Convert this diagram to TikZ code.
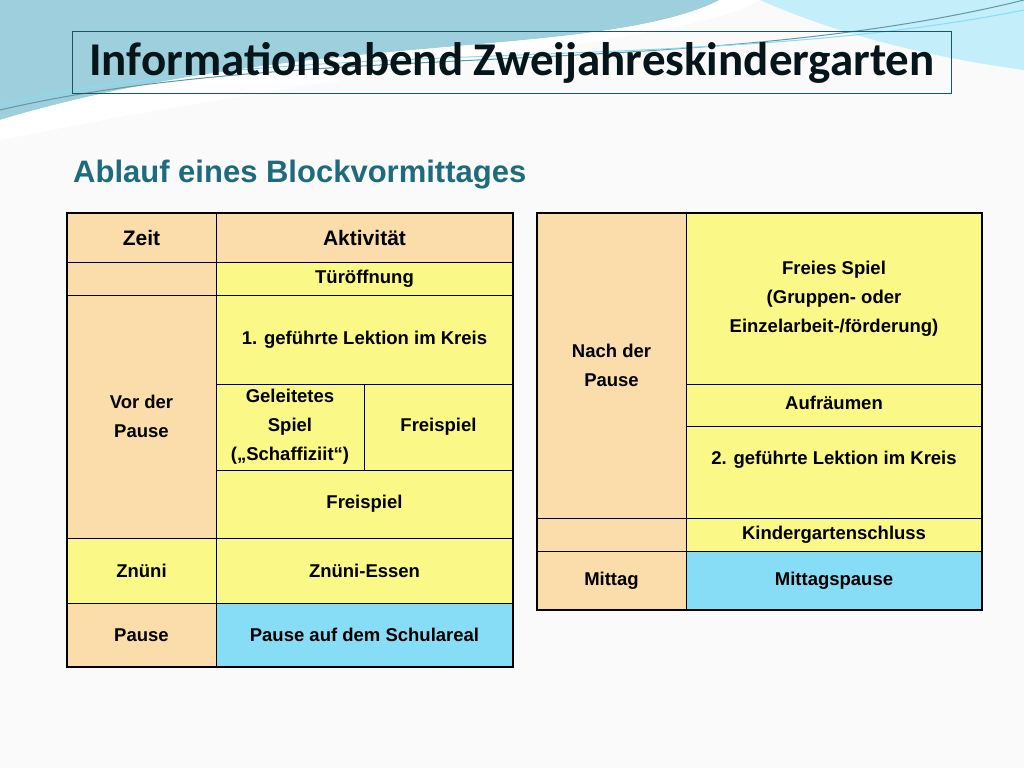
\documentclass[tikz,border=0pt]{standalone}
\usepackage{fontspec}
\setmainfont{Liberation Sans}
\newfontfamily\titlefont{Carlito}
\definecolor{tan}{HTML}{FADDAA}
\definecolor{lemon}{HTML}{FAF887}
\definecolor{sky}{HTML}{86DDF5}
\definecolor{teal}{HTML}{1F6B7E}
\tikzset{cell/.style={draw=black, line width=1pt, font=\bfseries\fontsize{18.5}{29}\selectfont, align=center}}
\newcommand\cell[7]{\draw[cell, fill=#6] (#2,#3) rectangle (#4,#5) node[pos=.5, align=center] (#1) {#7};}
\begin{document}
\begin{tikzpicture}[x=1pt, y=-1pt]
    \useasboundingbox (0,0) rectangle (1024,768);
    \fill[white!96!gray] (0,0) rectangle (1024,768);
    % background swooshes
    \fill[sky!60!teal!60] (0,0) -- (720,0) .. controls (600,60) and (300,30) .. (0,120) -- cycle;
    \fill[sky!50] (760,0) -- (1024,0) -- (1024,70) .. controls (950,60) and (850,40) .. (760,0) -- cycle;
    \fill[white] (0,120) .. controls (300,30) and (600,60) .. (720,0) -- (760,0) .. controls (700,40) and (400,60) .. (0,140) -- cycle;
    \draw[teal!70, line width=1pt] (0,110) .. controls (300,40) and (700,80) .. (1024,0);
    \draw[sky, line width=1pt] (0,105) .. controls (300,35) and (700,75) .. (1024,10);
    % title
    \node[draw=teal!80!black, line width=1pt, minimum width=879pt, minimum height=62pt, anchor=north west,
          font=\titlefont\bfseries\fontsize{47}{50}\selectfont, text=black!80!teal]
        (title) at (72,31) {\raisebox{-4pt}{Informationsabend Zweijahreskindergarten}};
    \node[anchor=west, inner sep=0pt, font=\bfseries\fontsize{31}{34}\selectfont, text=teal] (sub) at (73,175) {Ablauf eines Blockvormittages};
    % left table
    \cell{zeit}{67}{213}{216}{262}{tan}{\fontsize{21}{24}\selectfont Zeit}
    \cell{akt}{216}{213}{513}{262}{tan}{\fontsize{21}{24}\selectfont Aktivität}
    \cell{z1}{67}{262}{216}{295}{tan}{}
    \cell{tuer}{216}{262}{513}{295}{lemon}{Türöffnung}
    \cell{vor}{67}{295}{216}{538}{tan}{\fontsize{18.5}{24}\selectfont Vor der\\Pause}
    \cell{lek1}{216}{295}{513}{384}{lemon}{1. geführte Lektion im Kreis}
    \cell{geleit}{216}{384}{364}{470}{lemon}{\fontsize{18.5}{25}\selectfont Geleitetes\\Spiel\\(„Schaffiziit“)}
    \cell{frei1}{364}{384}{513}{470}{lemon}{Freispiel}
    \cell{frei2}{216}{470}{513}{538}{lemon}{Freispiel}
    \cell{znuni}{67}{538}{216}{603}{lemon}{Znüni}
    \cell{essen}{216}{538}{513}{603}{lemon}{Znüni-Essen}
    \cell{pause}{67}{603}{216}{667}{tan}{Pause}
    \cell{schul}{216}{603}{513}{667}{sky}{Pause auf dem Schulareal}
    \draw[line width=2pt] (67,213) rectangle (513,667);
    % right table
    \cell{nach}{537}{213}{686}{518}{tan}{\fontsize{18.5}{24}\selectfont Nach der\\Pause}
    \cell{spiel}{686}{213}{982}{384}{lemon}{\raisebox{10pt}{\parbox{290pt}{\centering Freies Spiel\\(Gruppen- oder\\Einzelarbeit-/förderung)}}}
    \cell{aufr}{686}{384}{982}{426}{lemon}{\raisebox{4pt}{Aufräumen}}
    \cell{lek2}{686}{426}{982}{518}{lemon}{\raisebox{29pt}{2. geführte Lektion im Kreis}}
    \cell{z2}{537}{518}{686}{551}{tan}{}
    \cell{schluss}{686}{518}{982}{551}{lemon}{Kindergartenschluss}
    \cell{mittag}{537}{551}{686}{610}{tan}{Mittag}
    \cell{mpause}{686}{551}{982}{610}{sky}{Mittagspause}
    \draw[line width=2pt] (537,213) rectangle (982,610);
\end{tikzpicture}
\end{document}
